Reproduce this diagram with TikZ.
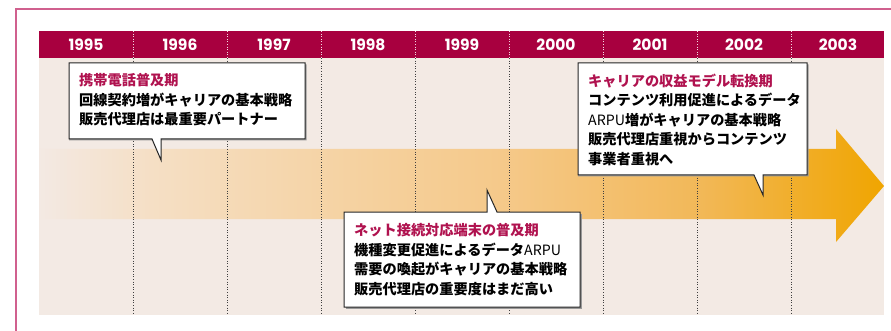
\documentclass[tikz,border=0pt]{standalone}
\usepackage{fontspec}
\newfontfamily\jp{Noto Sans CJK JP}
\newfontfamily\yearfont{Poppins}
\definecolor{frame}{HTML}{D0608E}
\definecolor{hdr}{HTML}{A8003F}
\definecolor{panel}{HTML}{F3EAE4}
\definecolor{ttl}{HTML}{B0124F}
\definecolor{ca}{HTML}{F3E9E3}
\definecolor{cb}{HTML}{F5DFC5}
\definecolor{cc}{HTML}{F5D09C}
\definecolor{cd}{HTML}{F5C98A}
\definecolor{ce}{HTML}{F2B858}
\definecolor{cf}{HTML}{F0A500}
\pgfdeclarehorizontalshading{arrowshade}{100bp}{color(0bp)=(ca); color(25bp)=(ca); color(31.6bp)=(cb); color(45.2bp)=(cc); color(52.3bp)=(cd); color(64.1bp)=(ce); color(75bp)=(cf); color(100bp)=(cf)}
\tikzset{
  yr/.style={font=\yearfont\bfseries\fontsize{15.5}{17}\selectfont, text=white, inner sep=0pt},
  gridline/.style={draw=black!75, dotted, line width=0.6pt},
  gridhdr/.style={draw=white!85!hdr, dotted, line width=0.6pt},
  callout/.style={fill=white, draw=black!85, line width=1pt, line join=miter},
  shadow/.style={fill=black!40},
  ctext/.style={font=\jp\bfseries\fontsize{14.2}{19.5}\selectfont, inner sep=0pt, align=left, anchor=north west},
  ctitle/.style={text=ttl}
}
\newcommand{\rgl}[1]{{\mdseries #1}}
\begin{document}
\begin{tikzpicture}[x=1pt,y=-1pt]
\useasboundingbox (0,0) rectangle (891,331);
% outer frame (top and left visible)
\draw[frame, line width=1.2pt] (891,9) -- (16,9) -- (16,331);
% panel and header
\fill[panel] (39,58) rectangle (884,315);
\fill[hdr] (39,31) rectangle (884,58);
% arrow
\path[shading=arrowshade] (39,149) -- (836,149) -- (836,129) -- (884,186) -- (836,242) -- (836,219) -- (39,219) -- cycle;
% grid lines
\foreach \x in {133,227,321,415,509,603,697,791}{
  \draw[gridline] (\x,58) -- (\x,315);
  \draw[gridhdr] (\x,31) -- (\x,58);
}
% years
\foreach \y [count=\i from 0] in {1995,1996,1997,1998,1999,2000,2001,2002,2003}{
  \node[yr] (y\y) at ({86+94*\i},45) {\y};
}
% callout 1
\fill[shadow] (70.5,64.5) -- (306.5,64.5) -- (306.5,140.5) -- (69,140.5) -- cycle;
\path[callout] (69,63) -- (305,63) -- (305,139) -- (161,139) -- (161,160) -- (152,139) -- (69,139) -- cycle;
\node[ctext] (c1) at (79,73.5) {{\color{ttl}携帯電話普及期}\\回線契約増がキャリアの基本戦略\\販売代理店は最重要パートナー};
% callout 2
\fill[shadow] (579.5,64.5) -- (808.5,64.5) -- (808.5,176.5) -- (578,176.5) -- cycle;
\path[callout] (578,63) -- (807,63) -- (807,175) -- (763,175) -- (763,195) -- (754,175) -- (578,175) -- cycle;
\node[ctext] (c2) at (588,73.5) {{\color{ttl}キャリアの収益モデル転換期}\\コンテンツ利用促進によるデータ\\\rgl{ARPU}増がキャリアの基本戦略\\販売代理店重視からコンテンツ\\事業者重視へ};
% callout 3
\fill[shadow] (345.5,213.5) -- (581.5,213.5) -- (581.5,308.5) -- (345.5,308.5) -- cycle;
\path[callout] (344,212) -- (487,212) -- (487,190) -- (497,212) -- (580,212) -- (580,307) -- (344,307) -- cycle;
\node[ctext] (c3) at (354,223.5) {{\color{ttl}ネット接続対応端末の普及期}\\機種変更促進によるデータ\rgl{ARPU}\\需要の喚起がキャリアの基本戦略\\販売代理店の重要度はまだ高い};
\end{tikzpicture}
\end{document}
